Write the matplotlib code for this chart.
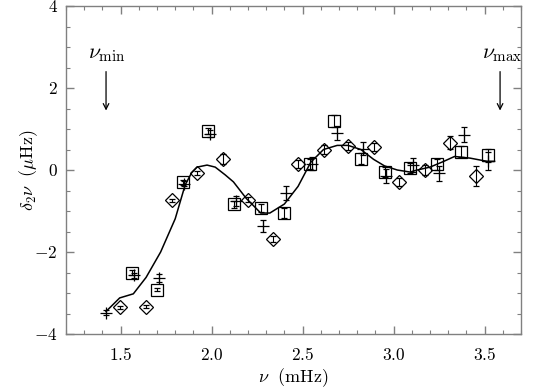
import matplotlib
matplotlib.use('Agg')
import matplotlib.pyplot as plt
from matplotlib.ticker import MultipleLocator, FuncFormatter

plt.rcParams['mathtext.fontset'] = 'cm'
plt.rcParams['font.family'] = 'serif'

# ---- data ----
sq_x = [1.56, 1.70, 1.845, 1.98, 2.125, 2.27, 2.40, 2.54, 2.67, 2.82, 2.95, 3.09, 3.24, 3.37, 3.52]
sq_y = [-2.50, -2.92, -0.30, 0.95, -0.84, -0.92, -1.05, 0.15, 1.19, 0.28, -0.05, 0.05, 0.14, 0.45, 0.36]
sq_e = [0.05, 0.04, 0.06, 0.07, 0.09, 0.10, 0.12, 0.12, 0.14, 0.13, 0.12, 0.12, 0.13, 0.14, 0.16]

dm_x = [1.495, 1.64, 1.78, 1.92, 2.065, 2.20, 2.34, 2.475, 2.62, 2.75, 2.89, 3.03, 3.17, 3.31, 3.45]
dm_y = [-3.35, -3.33, -0.74, -0.07, 0.27, -0.72, -1.68, 0.14, 0.50, 0.59, 0.57, -0.29, 0.00, 0.67, -0.15]
dm_e = [0.03, 0.03, 0.04, 0.05, 0.12, 0.07, 0.07, 0.10, 0.10, 0.10, 0.10, 0.10, 0.12, 0.16, 0.25]

pl_x = [1.42, 1.575, 1.71, 1.85, 1.99, 2.135, 2.28, 2.41, 2.55, 2.69, 2.83, 2.96, 3.105, 3.25, 3.385, 3.52]
pl_y = [-3.48, -2.57, -2.63, -0.33, 0.89, -0.75, -1.36, -0.57, 0.15, 0.91, 0.52, -0.15, 0.12, -0.08, 0.86, 0.23]
pl_e = [0.06, 0.07, 0.10, 0.07, 0.09, 0.12, 0.14, 0.17, 0.16, 0.17, 0.16, 0.17, 0.18, 0.18, 0.18, 0.22]

model_x = [1.42, 1.495, 1.57, 1.64, 1.72, 1.80, 1.855, 1.89, 1.92, 1.975, 2.02, 2.075, 2.12, 2.19,
           2.27, 2.32, 2.40, 2.475, 2.545, 2.615, 2.69, 2.75, 2.82, 2.89, 2.95, 3.02, 3.09, 3.13,
           3.20, 3.27, 3.335, 3.42, 3.515, 3.555]
model_y = [-3.45, -3.12, -3.02, -2.62, -2.00, -1.19, -0.36, -0.07, 0.07, 0.12, 0.07, -0.12, -0.29, -0.69,
           -1.05, -1.05, -0.83, -0.40, 0.19, 0.50, 0.60, 0.60, 0.50, 0.26, 0.10, 0.00, -0.05, 0.00,
           0.07, 0.20, 0.33, 0.29, 0.21, 0.21]

nu_min = 1.42
nu_max = 3.585

x_ticks = [1.5, 2.0, 2.5, 3.0, 3.5]
y_ticks = [-4, -2, 0, 2, 4]

# ---- figure ----
fig = plt.figure(figsize=(5.4, 3.91), dpi=100)
ax = fig.add_axes([66/540, 1-334/391, (521-66)/540, (334-6)/391])

ax.plot(model_x, model_y, color='black', lw=1.1, zorder=2)

ekw = dict(ecolor='black', elinewidth=0.8, capsize=2.2, capthick=0.8, linestyle='none', zorder=3)
ax.errorbar(sq_x, sq_y, yerr=sq_e, marker='s', ms=9, mfc='none', mec='black', mew=0.9, **ekw)
ax.errorbar(dm_x, dm_y, yerr=dm_e, marker='D', ms=7, mfc='none', mec='black', mew=0.9, **ekw)
ax.errorbar(pl_x, pl_y, yerr=pl_e, marker='+', ms=8, mec='black', mew=0.9, **ekw)

# arrows
for nu, lab in [(nu_min, r'$\nu_{\mathrm{min}}$'), (nu_max, r'$\nu_{\mathrm{max}}$')]:
    ax.annotate('', xy=(nu, 1.45), xytext=(nu, 2.4),
                arrowprops=dict(arrowstyle='->', color='black', lw=0.9, shrinkA=0, shrinkB=0))
    ax.text(nu - 0.1, 2.86, lab, fontsize=15.5, ha='left', va='center')

ax.set_xlim(1.2, 3.7)
ax.set_ylim(-4, 4)
ax.set_xticks(x_ticks)
ax.set_yticks(y_ticks)
ax.xaxis.set_minor_locator(MultipleLocator(0.1))
ax.yaxis.set_minor_locator(MultipleLocator(0.5))
ax.xaxis.set_major_formatter(FuncFormatter(lambda v, p: r'$%.1f$' % v))
ax.yaxis.set_major_formatter(FuncFormatter(lambda v, p: r'$%d$' % v))

spine_c = '#808080'
for s in ax.spines.values():
    s.set_color(spine_c)
    s.set_linewidth(1.0)
ax.tick_params(which='both', direction='in', top=True, right=True, color=spine_c, labelsize=12.5)
ax.tick_params(which='major', length=6, width=1.0, pad=9)
ax.tick_params(which='minor', length=3, width=0.8)
ax.tick_params(axis='y', which='major', pad=6)

ax.set_xlabel(r'$\nu\ \ (\mathrm{mHz})$', fontsize=13, labelpad=2)
ax.set_ylabel(r'$\delta_2\nu\ \ (\mu\mathrm{Hz})$', fontsize=13, labelpad=-4)

fig.savefig('out.png', dpi=100)
